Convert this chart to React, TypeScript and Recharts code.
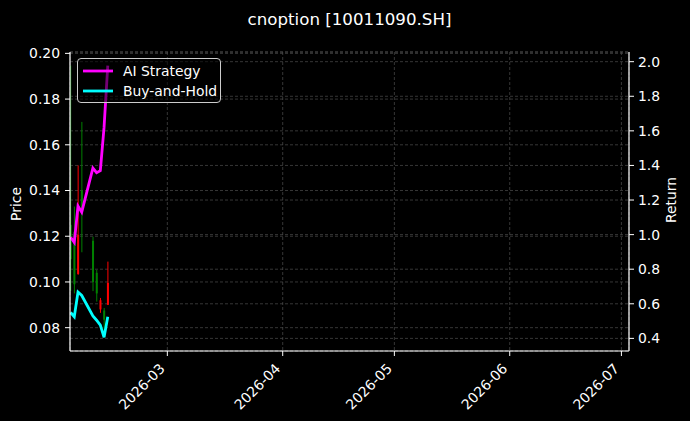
import React from "react";
import {
  ComposedChart,
  Bar,
  Line,
  XAxis,
  YAxis,
  CartesianGrid,
} from "recharts";

const DAY = 86400000;

// trading days shown
const dates = [
  "2026-02-03",
  "2026-02-04",
  "2026-02-05",
  "2026-02-06",
  "2026-02-09",
  "2026-02-10",
  "2026-02-11",
  "2026-02-12",
  "2026-02-13",
];

// OHLC
const open = [0.11, 0.099, 0.1206, 0.13, 0.1, 0.095, 0.092, 0.0835, 0.0996];
const high = [0.1947, 0.133, 0.151, 0.17, 0.1198, 0.1053, 0.093, 0.0886, 0.1089];
const low = [0.096, 0.095, 0.1031, 0.113, 0.096, 0.0914, 0.0865, 0.0758, 0.0899];
const close = [0.125, 0.122, 0.1035, 0.14, 0.118, 0.104, 0.088, 0.0875, 0.09];

// cumulative return curves (right axis)
const aiStrategy = [0.985, 0.955, 1.165, 1.13, 1.385, 1.358, 1.37, 1.62, 1.977];
const buyAndHold = [0.55, 0.525, 0.668, 0.648, 0.53, 0.505, 0.477, 0.406, 0.525];

const xTickDates = ["2026-03-01", "2026-04-01", "2026-05-01", "2026-06-01", "2026-07-01"];
const priceTicks = [0.08, 0.1, 0.12, 0.14, 0.16, 0.18, 0.2];
const returnTicks = [0.4, 0.6, 0.8, 1.0, 1.2, 1.4, 1.6, 1.8, 2.0];

const toMs = (d: string) => Date.parse(d + "T00:00:00Z");

const rows = dates.map((d, i) => ({
  t: toMs(d),
  open: open[i],
  high: high[i],
  low: low[i],
  close: close[i],
  ai: aiStrategy[i],
  bh: buyAndHold[i],
}));

const xDomain = [toMs("2026-02-03") - 0.15 * DAY, toMs("2026-07-03") + 0.04 * DAY];
const xTicks = xTickDates.map(toMs);

const FONT = '"DejaVu Sans", sans-serif';
const FS = 13.9;

const fmtMonth = (v: number) => {
  const d = new Date(v);
  return `${d.getUTCFullYear()}-${String(d.getUTCMonth() + 1).padStart(2, "0")}`;
};

const Candle = (props: any) => {
  const { x, y, width, height, payload } = props;
  if (x == null || y == null) return null;
  const { open: o, close: c, high: h, low: l } = payload;
  const color = c >= o ? "#008000" : "#ff0000";
  const top = Math.min(y, y + height);
  const span = Math.abs(height);
  const py = (p: number) => top + ((h - p) / (h - l)) * span;
  const cx = x + width / 2;
  const bTop = py(Math.max(o, c));
  const bBot = py(Math.min(o, c));
  return (
    <g>
      <line x1={cx} x2={cx} y1={top} y2={top + span} stroke={color} strokeWidth={1} />
      <rect x={x} y={bTop} width={width} height={Math.max(bBot - bTop, 1)} fill={color} />
    </g>
  );
};

const DateTick = (props: any) => {
  const { x, y, payload } = props;
  const ax = x - 5;
  const ay = y + 7;
  return (
    <text
      x={ax}
      y={ay}
      transform={`rotate(-45 ${ax} ${ay})`}
      textAnchor="end"
      dominantBaseline="central"
      fill="#ffffff"
      fontSize={FS}
      fontFamily={FONT}
    >
      {fmtMonth(payload.value)}
    </text>
  );
};

const tickStyle = { fill: "#ffffff", fontSize: FS, fontFamily: FONT };

export default function App() {
  return (
    <div
      style={{
        position: "absolute",
        left: 0,
        top: 0,
        width: 690,
        height: 421,
        background: "#000000",
        overflow: "hidden",
        fontFamily: FONT,
        color: "#ffffff",
      }}
    >
      <ComposedChart
        width={690}
        height={421}
        data={rows}
        margin={{ top: 52, right: 0, bottom: 0, left: 0 }}
      >
        <CartesianGrid
          xAxisId="b"
          yAxisId="left"
          stroke="#4d4d4d"
          strokeDasharray="3 2"
          strokeWidth={0.7}
          ticks={undefined}
        />
        <CartesianGrid
          xAxisId="b"
          yAxisId="right"
          vertical={false}
          stroke="#4d4d4d"
          strokeDasharray="3 2"
          strokeWidth={0.7}
        />
        <XAxis
          xAxisId="b"
          dataKey="t"
          type="number"
          domain={xDomain}
          ticks={xTicks}
          allowDataOverflow
          height={70}
          tick={<DateTick />}
          tickSize={5}
          tickMargin={3}
          axisLine={{ stroke: "#ffffff", strokeWidth: 1.2 }}
          tickLine={{ stroke: "#ffffff" }}
          interval={0}
        />
        <XAxis
          xAxisId="top"
          dataKey="t"
          type="number"
          orientation="top"
          domain={xDomain}
          allowDataOverflow
          height={0}
          tick={false}
          tickLine={false}
          axisLine={{ stroke: "#ffffff", strokeWidth: 1.2 }}
        />
        <YAxis
          yAxisId="left"
          orientation="left"
          width={70}
          domain={[0.0698, 0.2006]}
          ticks={priceTicks}
          allowDataOverflow
          tickFormatter={(v: number) => v.toFixed(2)}
          tick={tickStyle}
          tickSize={5}
          tickMargin={5}
          axisLine={{ stroke: "#ffffff", strokeWidth: 1.2 }}
          tickLine={{ stroke: "#ffffff" }}
          interval={0}
        />
        <YAxis
          yAxisId="right"
          orientation="right"
          width={61}
          domain={[0.327, 2.056]}
          ticks={returnTicks}
          allowDataOverflow
          tickFormatter={(v: number) => v.toFixed(1)}
          tick={{ ...tickStyle, textAnchor: "start" }}
          tickSize={5}
          tickMargin={4}
          axisLine={{ stroke: "#ffffff", strokeWidth: 1.2 }}
          tickLine={{ stroke: "#ffffff" }}
          interval={0}
        />
        <Bar
          xAxisId="b"
          yAxisId="left"
          dataKey={(d: any) => [d.low, d.high]}
          barSize={2}
          shape={<Candle />}
          isAnimationActive={false}
        />
        <Line
          xAxisId="b"
          yAxisId="right"
          type="linear"
          dataKey="ai"
          stroke="#ff00ff"
          strokeWidth={2.8}
          dot={false}
          isAnimationActive={false}
        />
        <Line
          xAxisId="b"
          yAxisId="right"
          type="linear"
          dataKey="bh"
          stroke="#00ffff"
          strokeWidth={2.8}
          dot={false}
          isAnimationActive={false}
        />
      </ComposedChart>

      <div
        style={{
          position: "absolute",
          left: 349.5,
          top: 10,
          transform: "translateX(-50%)",
          fontSize: 16.67,
          lineHeight: "20px",
          whiteSpace: "nowrap",
        }}
      >
        cnoption [10011090.SH]
      </div>

      <div
        style={{
          position: "absolute",
          left: 17,
          top: 203.5,
          transform: "translate(-50%, -50%) rotate(-90deg)",
          fontSize: FS,
          lineHeight: 1,
          whiteSpace: "nowrap",
        }}
      >
        Price
      </div>
      <div
        style={{
          position: "absolute",
          left: 672,
          top: 200,
          transform: "translate(-50%, -50%) rotate(-90deg)",
          fontSize: FS,
          lineHeight: 1,
          whiteSpace: "nowrap",
        }}
      >
        Return
      </div>

      <div
        style={{
          position: "absolute",
          left: 77,
          top: 58,
          width: 144,
          height: 45,
          boxSizing: "border-box",
          border: "1px solid #cccccc",
          borderRadius: 4,
          background: "rgba(0,0,0,0.55)",
          fontSize: FS,
        }}
      >
        {[
          { name: "AI Strategy", color: "#ff00ff" },
          { name: "Buy-and-Hold", color: "#00ffff" },
        ].map((it, i) => (
          <div
            key={it.name}
            style={{
              position: "absolute",
              left: 4,
              top: 3 + i * 20,
              height: 18,
              display: "flex",
              alignItems: "center",
              whiteSpace: "nowrap",
            }}
          >
            <svg width={32} height={18} style={{ display: "block" }}>
              <line x1={1} x2={31} y1={9} y2={9} stroke={it.color} strokeWidth={2.8} />
            </svg>
            <span style={{ marginLeft: 9, lineHeight: "18px" }}>{it.name}</span>
          </div>
        ))}
      </div>
    </div>
  );
}
